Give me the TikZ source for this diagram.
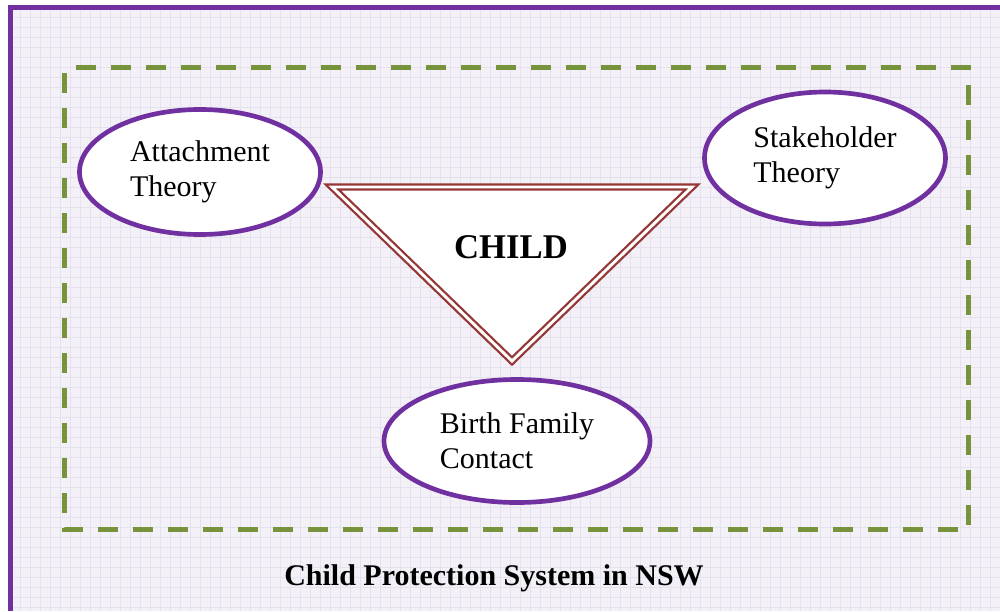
\documentclass[tikz,border=0pt]{standalone}
\usepackage{fontspec}
\setmainfont{Liberation Serif}
\usetikzlibrary{shapes.geometric}

\definecolor{theorypurple}{HTML}{7030A0}
\definecolor{childred}{HTML}{953735}
\definecolor{systemgreen}{HTML}{77933C}
\definecolor{paper}{RGB}{243,241,247}
\definecolor{paperline}{RGB}{229,226,237}

\tikzset{
  theory/.style={ellipse, draw=theorypurple, line width=3.5pt, fill=white,
    inner sep=0pt, align=left, font=\fontsize{22.5}{26.25}\selectfont},
  childtri/.style={draw=childred, line width=1.7pt, double=white,
    double distance=2.2pt, fill=white, line join=miter},
  boundary/.style={draw=systemgreen, line width=3.75pt,
    dash pattern=on 15pt off 11.25pt, dash phase=-4pt},
  gridline/.style={draw=paperline, line width=0.4pt},
  frame/.style={draw=theorypurple, line width=3.75pt}
}

\begin{document}
\begin{tikzpicture}[x=0.75pt,y=-0.75pt]
\useasboundingbox (0,0) rectangle (1000,611);
% background paper
\fill[paper] (10,7) rectangle (1000,611);
\foreach \gx in {20,30,...,990} \draw[gridline] (\gx,7) -- (\gx,611);
\foreach \gy in {17,27,...,607} \draw[gridline] (10,\gy) -- (1000,\gy);
\draw[frame] (10,611) -- (10,7) -- (1000,7);
% system boundary
\draw[boundary] (64.5,67.5) rectangle (968.5,529.5);
% child triangle
\draw[childtri] (332,187) -- (692,187) -- (512,361) -- cycle;
\node[anchor=base, font=\bfseries\fontsize{26}{30}\selectfont] (child) at (511,258) {CHILD};
% theories
\node[theory, minimum width=180.75pt, minimum height=93.75pt] (attach) at (200,172) {Attachment\\Theory};
\node[theory, minimum width=180.75pt, minimum height=99pt] (stake) at (825,158) {Stakeholder\\Theory};
\node[theory, minimum width=199.5pt, minimum height=92.25pt] (birth) at (517,441) {Birth Family\\Contact};
% caption
\node[anchor=base, font=\bfseries\fontsize{22.5}{27}\selectfont] (system) at (494,585) {Child Protection System in NSW};
\end{tikzpicture}
\end{document}
